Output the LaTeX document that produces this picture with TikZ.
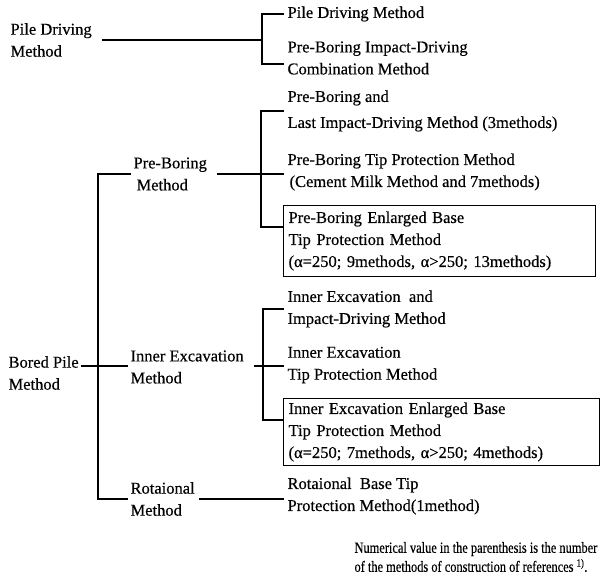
\documentclass[tikz,border=0pt]{standalone}
\usepackage{fontspec}
\setmainfont{Liberation Serif}[FakeBold=0.4]
\newfontfamily\notefont{Liberation Serif}[FakeStretch=0.8, FakeBold=0.4]
\usepackage{tikz}
\usetikzlibrary{positioning}

\begin{document}
\begin{tikzpicture}[x=1pt, y=-1pt, line width=1.1pt, every node/.style={font=\fontsize{16.5}{22}\selectfont}]
  \tikzstyle{item} = [anchor=west, align=left, inner sep=2pt]
  \tikzstyle{sub} = [anchor=west, align=left, inner sep=3pt]
  \tikzstyle{framed} = [anchor=west, align=left, draw, inner xsep=5pt, inner ysep=4pt, minimum height=71pt]
  \tikzstyle{line} = [draw]
  \useasboundingbox (0,0) rectangle (603,578);

  % Pile Driving
  \node[item] (pd) at (8,40) {Pile Driving\\Method};
  \node[sub] (pd1) at (284,14) {Pile Driving Method};
  \node[sub] (pd2) at (284,58) {Pre-Boring Impact-Driving\\Combination Method};
  \coordinate (pdj) at (262,40);

  % Bored Pile
  \node[item] (bp) at (6,373) {Bored Pile\\Method};
  \node[item] (pre) at (131,174) {Pre-Boring\\\hspace{3pt}Method};
  \node[item] (inn) at (128,367) {Inner Excavation\\Method};
  \node[item] (rot) at (128,499) {Rotaional\\Method};
  \coordinate (bpj) at (98,366);

  % Pre-Boring
  \node[sub] (p1) at (284,111) {Pre-Boring and\\[4pt]Last Impact-Driving Method (3methods)};
  \node[sub] (p2) at (284,172) {Pre-Boring Tip Protection Method\\\hspace{2pt}(Cement Milk Method and 7methods)};
  \node[framed, text width=302pt] (p3) at (283,241) {Pre-Boring Enlarged Base\\Tip Protection Method\\(α=250; 9methods, α>250; 13methods)};
  \coordinate (prej) at (261,174);

  % Inner Excavation
  \node[sub] (i1) at (284,309) {Inner Excavation\ \ and\\Impact-Driving Method};
  \node[sub] (i2) at (284,365) {Inner Excavation\\Tip Protection Method};
  \node[framed, text width=306pt, minimum height=67pt] (i3) at (283,432) {Inner Excavation Enlarged Base\\Tip Protection Method\\(α=250; 7methods, α>250; 4methods)};
  \coordinate (innj) at (263,366);

  % Rotaional
  \node[sub] (r1) at (284,496) {Rotaional\ \ Base Tip\\Protection Method(1method)};

  % Note
  \node[item, font=\notefont\fontsize{15.5}{19}\selectfont] (note) at (352,557) {Numerical value in the parenthesis is the number\\of the methods of construction of references\ \textsuperscript{1)}.};

  % Connections
  \draw[line, shorten <=8pt] (pd.east) -- (pdj);
  \draw[line] (pd1.west) -| (pdj) |- ([yshift=-6pt]pd2.west);
  \draw[line] (bp.east |- bpj) -- (inn.west |- bpj);
  \draw[line] (pre.west) -| (bpj) |- (rot.west);
  \draw[line, shorten <=8pt] (pre.east |- prej) -- (prej) -- (prej -| p2.west);
  \draw[line] (p1.west) -| (prej) |- ([yshift=-22pt]p3.north west);
  \draw[line, shorten <=8pt] (inn.east |- innj) -- (innj) -- (innj -| i2.west);
  \draw[line] (i1.west) -| (innj) |- ([yshift=-22pt]i3.north west);
  \draw[line, shorten <=2pt] (rot.east) -- (rot.east -| r1.west);
\end{tikzpicture}
\end{document}
